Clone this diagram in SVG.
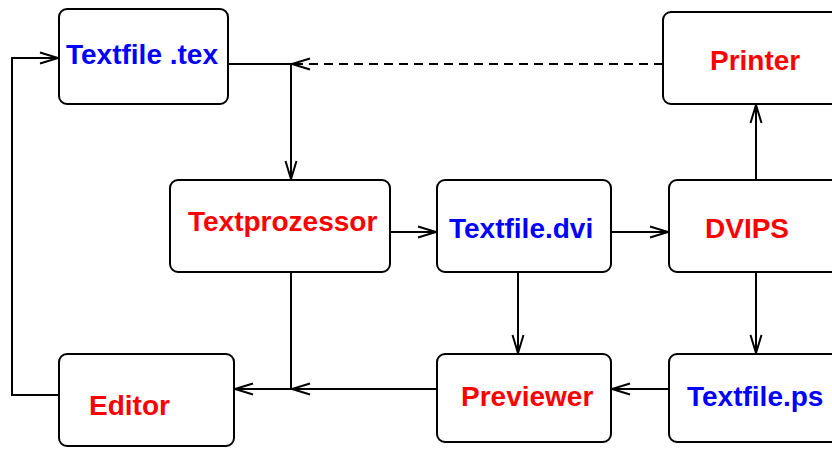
<svg xmlns="http://www.w3.org/2000/svg" width="832" height="449" viewBox="0 0 832 449">
<style>
.box{fill:#fff;stroke:#000;stroke-width:2}
.lbl{font-family:"Liberation Sans",Arial,sans-serif;font-weight:bold;font-size:28px}
.blue{fill:#0000ff}
.red{fill:#ff0000}
.con{fill:none;stroke:#000;stroke-width:2}
.dash{stroke-dasharray:9 6}
</style>
<defs>
<marker id="arr" markerUnits="userSpaceOnUse" markerWidth="24" markerHeight="16" viewBox="-20 -8 24 16" refX="0" refY="0" orient="auto" overflow="visible">
<path d="M-18,-5.5 L0,0 L-18,5.5" fill="none" stroke="#000" stroke-width="2" stroke-dasharray="none"/>
</marker>
</defs>
<rect width="832" height="449" fill="#fff"/>
<g id="connectors">
<path class="con" d="M59,395 H12 V58 H58" marker-end="url(#arr)"/>
<path class="con" d="M228,64 H291 V179" marker-end="url(#arr)"/>
<path class="con dash" d="M663,64 H292" marker-end="url(#arr)"/>
<path class="con" d="M390,232 H436" marker-end="url(#arr)"/>
<path class="con" d="M611,232 H668" marker-end="url(#arr)"/>
<path class="con" d="M756,180 V105" marker-end="url(#arr)"/>
<path class="con" d="M756,273 V353" marker-end="url(#arr)"/>
<path class="con" d="M518,273 V353" marker-end="url(#arr)"/>
<path class="con" d="M669,389 H612" marker-end="url(#arr)"/>
<path class="con" d="M437,389 H292" marker-end="url(#arr)"/>
<path class="con" d="M292,389 H235" marker-end="url(#arr)"/>
<path class="con" d="M291,273 V389"/>
</g>
<g id="textfile-tex">
<rect class="box" x="59" y="9" width="169" height="95" rx="8"/>
<text class="lbl blue" x="66" y="64">Textfile .tex</text>
</g>
<g id="printer">
<rect class="box" x="663" y="12" width="180" height="92" rx="8"/>
<text class="lbl red" x="710" y="70">Printer</text>
</g>
<g id="textprozessor">
<rect class="box" x="170" y="180" width="220" height="92" rx="8"/>
<text class="lbl red" x="188" y="231">Textprozessor</text>
</g>
<g id="textfile-dvi">
<rect class="box" x="437" y="180" width="174" height="92" rx="8"/>
<text class="lbl blue" x="449" y="238">Textfile.dvi</text>
</g>
<g id="dvips">
<rect class="box" x="669" y="180" width="180" height="92" rx="8"/>
<text class="lbl red" x="705" y="238">DVIPS</text>
</g>
<g id="editor">
<rect class="box" x="59" y="354" width="175" height="92" rx="8"/>
<text class="lbl red" x="89" y="415">Editor</text>
</g>
<g id="previewer">
<rect class="box" x="437" y="354" width="174" height="88" rx="8"/>
<text class="lbl red" x="461" y="406">Previewer</text>
</g>
<g id="textfile-ps">
<rect class="box" x="669" y="354" width="180" height="88" rx="8"/>
<text class="lbl blue" x="687" y="406">Textfile.ps</text>
</g>
</svg>
